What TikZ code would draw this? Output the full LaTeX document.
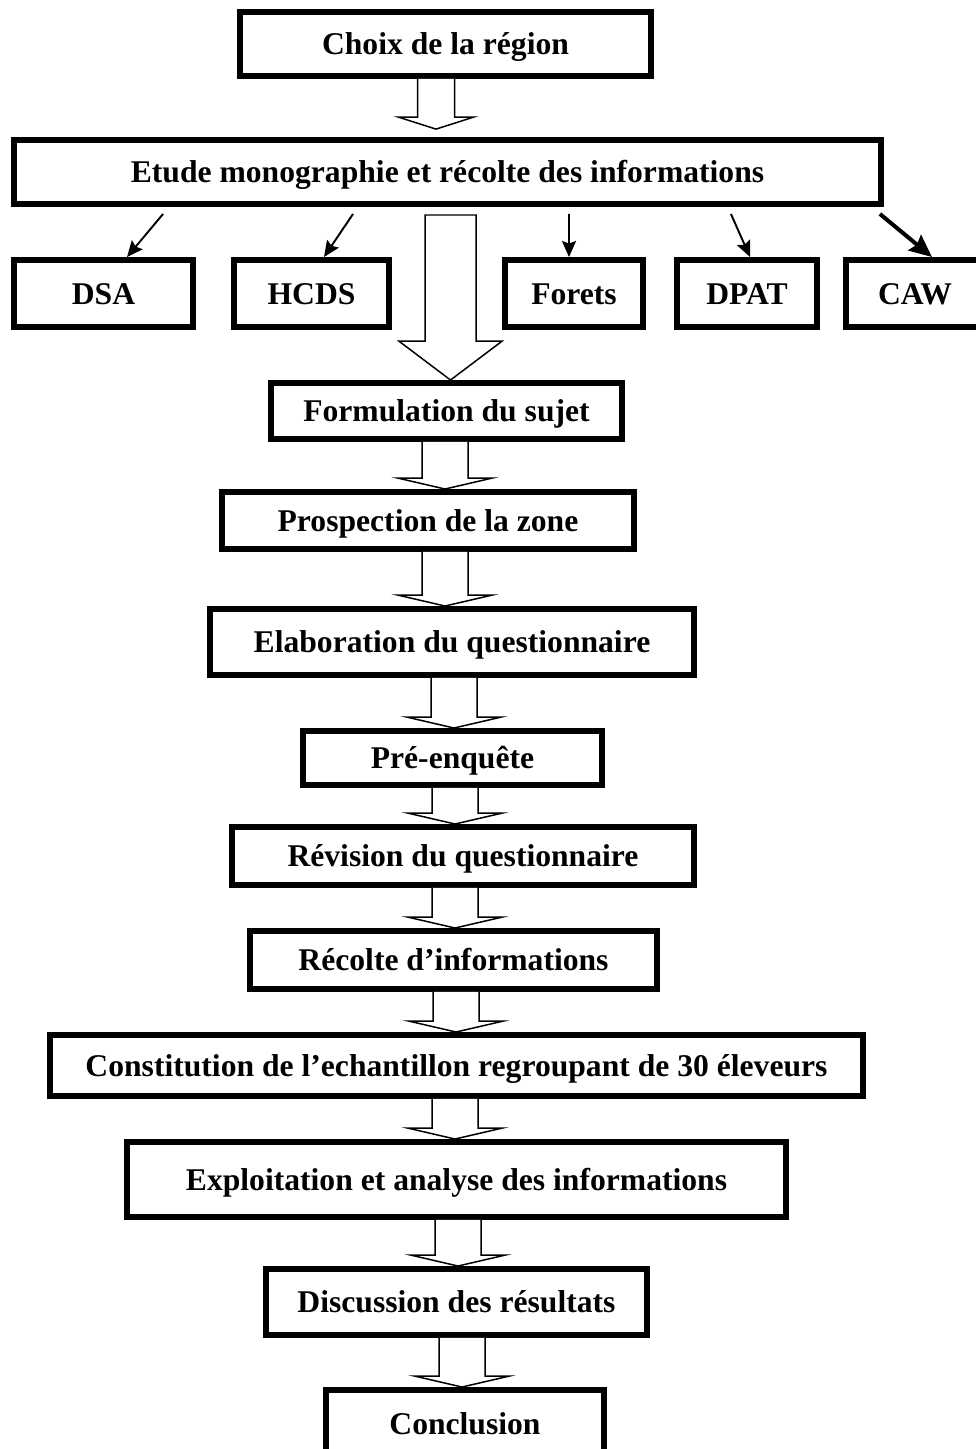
\documentclass[tikz,border=0pt]{standalone}
\usepackage{fontspec}
\setmainfont{Liberation Serif}
\usepackage{tikz}
\usetikzlibrary{arrows.meta, calc}

\tikzset{
  etape/.style={draw, rectangle, line width=3.4pt, inner sep=0pt,
    font=\fontsize{18}{21}\selectfont\bfseries, text height=14pt, text depth=2pt},
  fleche/.style={line width=1.1pt, -{Stealth[length=3.2mm, width=2.8mm, inset=0.5mm]}},
  creuse/.style={draw, line width=0.85pt, fill=white, line join=miter},
}

\begin{document}
\begin{tikzpicture}[x=0.02cm, y=-0.02cm]
  \useasboundingbox (0,0) rectangle (976,1449);

  % Etapes principales
  \node[etape, minimum width=8.22cm, minimum height=1.28cm] (choix) at (445.5,44) {Choix de la région};
  \node[etape, minimum width=17.34cm, minimum height=1.28cm] (etude) at (447.5,172) {Etude monographie et récolte des informations};

  % Services consultes
  \node[etape, minimum width=3.58cm, minimum height=1.34cm] (dsa) at (103.5,293.5) {DSA};
  \node[etape, minimum width=3.10cm, minimum height=1.34cm] (hcds) at (311.5,293.5) {HCDS};
  \node[etape, minimum width=2.76cm, minimum height=1.34cm] (forets) at (574,293.5) {Forets};
  \node[etape, minimum width=2.80cm, minimum height=1.34cm] (dpat) at (747,293.5) {DPAT};
  \node[etape, minimum width=2.76cm, minimum height=1.34cm] (caw) at (915,293.5) {CAW};

  \node[etape, minimum width=7.02cm, minimum height=1.12cm] (form) at (446.5,411) {Formulation du sujet};
  \node[etape, minimum width=8.24cm, minimum height=1.14cm] (prosp) at (428,520.5) {Prospection de la zone};
  \node[etape, minimum width=9.68cm, minimum height=1.32cm] (elab) at (452,642) {Elaboration du questionnaire};
  \node[etape, minimum width=5.98cm, minimum height=1.08cm] (pre) at (452.5,758) {Pré-enquête};
  \node[etape, minimum width=9.24cm, minimum height=1.16cm] (revi) at (463,856) {Révision du questionnaire};
  \node[etape, minimum width=8.14cm, minimum height=1.16cm] (recol) at (453.5,960) {Récolte d’informations};
  \node[etape, minimum width=16.26cm, minimum height=1.22cm] (const) at (456.5,1065.5) {Constitution de l’echantillon regroupant de 30 éleveurs};
  \node[etape, minimum width=13.18cm, minimum height=1.5cm] (explo) at (456.5,1179.5) {Exploitation et analyse des informations};
  \node[etape, minimum width=7.62cm, minimum height=1.32cm] (disc) at (456.5,1302) {Discussion des résultats};
  \node[etape, minimum width=5.56cm, minimum height=1.34cm] (concl) at (465,1423.5) {Conclusion};

  % Fleches creuses
  \draw[creuse] let \p1=(choix.south), \p2=(etude.north) in
    (417.5,\y1) -- (417.5,\y2+11.3pt) -- (398.5,\y2+11.3pt) -- (436,\y2+4.5pt)
    -- (473.5,\y2+11.3pt) -- (454.5,\y2+11.3pt) -- (454.5,\y1);
  \coordinate (grande) at (450.5,215);
  \draw[creuse] let \p1=(grande), \p2=(form.north) in
    (425,\y1) -- (425,\y2+22.1pt) -- (399,\y2+22.1pt) -- (450.5,\y2)
    -- (502,\y2+22.1pt) -- (476,\y2+22.1pt) -- (476,\y1) -- cycle;
  \foreach \a/\b/\ax in {form/prosp/445, prosp/elab/445, elab/pre/454, pre/revi/455,
      revi/recol/455, recol/const/456, const/explo/455, explo/disc/458, disc/concl/462}
    \draw[creuse] let \p1=(\a.south), \p2=(\b.north) in
      (\ax-23,\y1) -- (\ax-23,\y2+6.2pt) -- (\ax-47,\y2+6.2pt) -- (\ax,\y2)
      -- (\ax+47,\y2+6.2pt) -- (\ax+23,\y2+6.2pt) -- (\ax+23,\y1);

  % Fleches vers les services
  \draw[fleche] ([xshift=-5.69cm, yshift=-0.14cm]etude.south) -- ([xshift=0.47cm]dsa.north);
  \draw[fleche] ([xshift=-1.89cm, yshift=-0.14cm]etude.south) -- ([xshift=0.25cm]hcds.north);
  \draw[fleche] ([xshift=2.43cm, yshift=-0.14cm]etude.south) -- ([xshift=-0.1cm]forets.north);
  \draw[fleche] ([xshift=5.67cm, yshift=-0.14cm]etude.south) -- ([xshift=0.06cm]dpat.north);
  \draw[line width=2.3pt, -{Stealth[length=4.5mm, width=4mm, inset=0.6mm]}]
    ([xshift=8.65cm, yshift=-0.14cm]etude.south) -- ([xshift=0.34cm]caw.north);
\end{tikzpicture}
\end{document}
